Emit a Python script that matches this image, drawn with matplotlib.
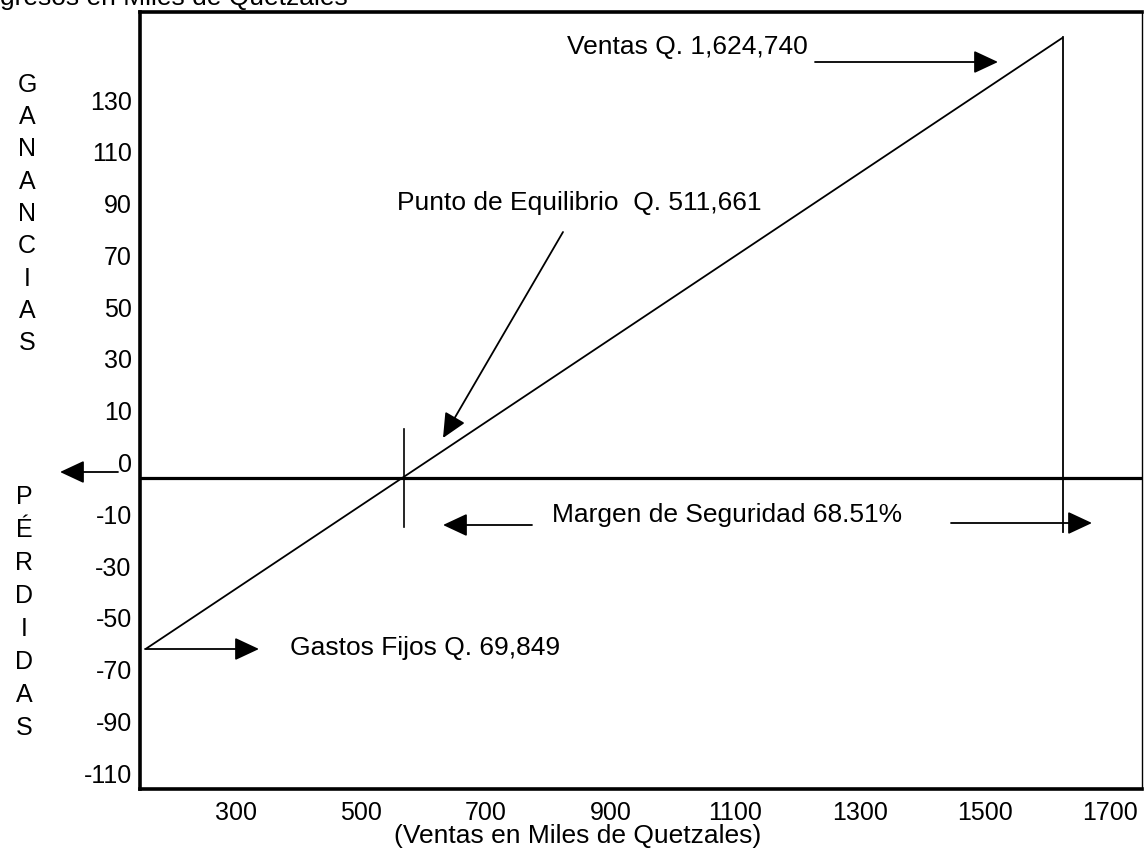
import matplotlib
matplotlib.use("Agg")
import matplotlib.pyplot as plt
import numpy as np

# ---- data (miles de quetzales) ----
ventas = 1624.740
equilibrio = 511.661
gastos_fijos = 69.849
margen_seguridad = 68.51

# line of results: start and end at ventas
linea_x = [75.0, ventas]
linea_y = [-gastos_fijos, 180.0]

ventas_line_y = [-22.0, 180.0]
equilibrio_tick_y = [-20.0, 20.0]

x_tick_labels = ["300", "500", "700", "900", "1100", "1300", "1500", "1700"]
y_tick_labels = ["130", "110", "90", "70", "50", "30", "10", "0",
                 "-10", "-30", "-50", "-70", "-90", "-110"]

ganancias = list("GANANCIAS")
perdidas = list("PÉRDIDAS")

plt.rcParams['font.family'] = ['Liberation Sans', 'DejaVu Sans']

W, H = 1144, 852
fig = plt.figure(figsize=(W / 100, H / 100), dpi=100)
ax = fig.add_axes([140 / W, (H - 789) / H, (1142 - 140) / W, (789 - 12) / H])

ax.set_xlim(65.76, 1758.2)
ax.set_ylim(-127.0, 190.4)

# ticks (layout positions for the labels)
ax.set_xticks(np.linspace(227.9, 1704.1, len(x_tick_labels)))
ax.set_xticklabels(x_tick_labels, fontsize=18)
ax.set_yticks(np.linspace(154.4, -120.5, len(y_tick_labels)))
ax.set_yticklabels(y_tick_labels, fontsize=18)
ax.tick_params(axis='both', length=0)
ax.tick_params(axis='x', pad=9)
ax.tick_params(axis='y', pad=6)

for s in ['left', 'top', 'bottom']:
    ax.spines[s].set_linewidth(2.6)
ax.spines['right'].set_linewidth(1.0)

# marks
ax.axhline(0, color='black', lw=2.3)
ax.plot(linea_x, linea_y, color='black', lw=1.3, solid_capstyle='butt')
ax.plot([ventas, ventas], ventas_line_y, color='black', lw=1.3)
ax.plot([equilibrio, equilibrio], equilibrio_tick_y, color='black', lw=1.2)

# annotations (figure pixel layout)
def fp(x, y):
    return (x, H - y)

ap = dict(arrowstyle='-|>,head_length=0.75,head_width=0.35', mutation_scale=20,
          lw=1.3, color='black', shrinkA=0, shrinkB=0)

def arrow(start, tip):
    fig.add_artist(matplotlib.patches.FancyArrowPatch(
        fp(*start), fp(*tip), transform=None, **ap))

fs = 19
fig.text(567 / W, 1 - 47 / H, "Ventas Q. 1,624,740", fontsize=fs, va='center', ha='left')
arrow((815, 62), (998, 62))

fig.text(397 / W, 1 - 203 / H, "Punto de Equilibrio  Q. 511,661", fontsize=fs, va='center', ha='left')
arrow((563, 232), (443, 438))

fig.text(290 / W, 1 - 648 / H, "Gastos Fijos Q. 69,849", fontsize=fs, va='center', ha='left')
arrow((145, 649), (259, 649))

fig.text(552 / W, 1 - 515 / H, f"Margen de Seguridad {margen_seguridad:.2f}%", fontsize=fs, va='center', ha='left')
arrow((532, 525), (443, 525))
arrow((951, 523), (1092, 523))

arrow((118, 472), (60, 472))

for i, ch in enumerate(ganancias):
    fig.text(27 / W, 1 - (85 + 32.25 * i) / H, ch, fontsize=18, va='center', ha='center')
for i, ch in enumerate(perdidas):
    fig.text(24 / W, 1 - (497 + 33 * i) / H, ch, fontsize=18, va='center', ha='center')

fig.text(-22 / W, 1 - 5 / H, "Ingresos en Miles de Quetzales", fontsize=fs, va='baseline', ha='left')
fig.text(578 / W, 1 - 836 / H, "(Ventas en Miles de Quetzales)", fontsize=fs, va='center', ha='center')

fig.savefig("out.png", dpi=100)
